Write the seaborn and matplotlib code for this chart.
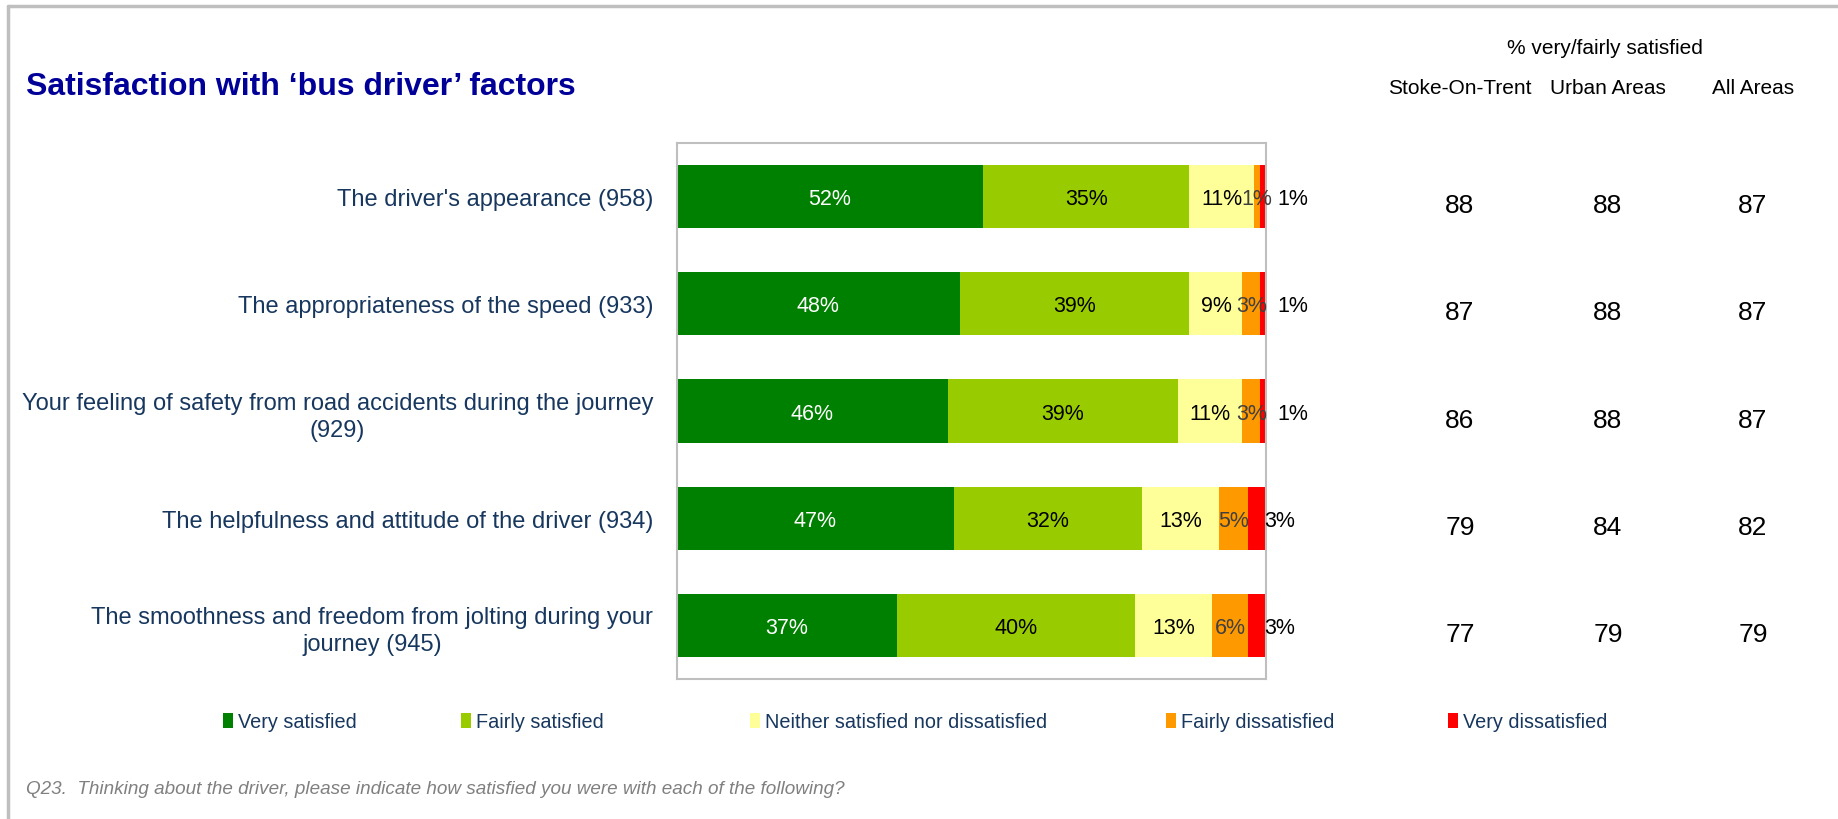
import numpy as np
import pandas as pd
import seaborn as sns
import matplotlib.pyplot as plt
from matplotlib.patches import Patch
from matplotlib.lines import Line2D
from matplotlib.transforms import blended_transform_factory

# chart data
factors = [
    "The driver's appearance (958)",
    "The appropriateness of the speed (933)",
    "Your feeling of safety from road accidents during the journey\n(929)",
    "The helpfulness and attitude of the driver (934)",
    "The smoothness and freedom from jolting during your\njourney (945)",
]
very_satisfied = [52, 48, 46, 47, 37]
fairly_satisfied = [35, 39, 39, 32, 40]
neither = [11, 9, 11, 13, 13]
fairly_dissatisfied = [1, 3, 3, 5, 6]
very_dissatisfied = [1, 1, 1, 3, 3]

stoke = [88, 87, 86, 79, 77]
urban = [88, 88, 88, 84, 79]
all_areas = [87, 87, 87, 82, 79]

levels = ["Very satisfied", "Fairly satisfied", "Neither satisfied nor dissatisfied",
          "Fairly dissatisfied", "Very dissatisfied"]
colors = ["#008000", "#99CC00", "#FFFF99", "#FF9900", "#FF0000"]
label_colors = ["white", "black", "black", "#404040", "black"]

sns.set_theme(style="white")
plt.rcParams['font.family'] = ['Liberation Sans', 'DejaVu Sans']
navy = "#17375E"

df = pd.DataFrame({"factor": factors,
                   levels[0]: very_satisfied, levels[1]: fairly_satisfied,
                   levels[2]: neither, levels[3]: fairly_dissatisfied,
                   levels[4]: very_dissatisfied})
vals = df[levels].to_numpy(dtype=float)
shares = vals / vals.sum(axis=1, keepdims=True) * 100  # 100% stacked
cum = shares.cumsum(axis=1)

fig = plt.figure(figsize=(18.38, 8.2), dpi=100)
ax = fig.add_axes([0.3683, 0.1707, 0.3205, 0.6537])

# stacked bars: draw widest cumulative first, overlay the rest
for i in range(len(levels) - 1, -1, -1):
    sns.barplot(x=cum[:, i], y=df["factor"], color=colors[i], orient="h",
                width=0.59, saturation=1, linewidth=0, ax=ax)

# segment labels
for r in range(len(factors)):
    for i in range(len(levels)):
        center = cum[r, i] - shares[r, i] / 2
        if i == len(levels) - 1:
            # last label is pushed out past the bar end
            center += 5.6 - 0.6 * shares[r, i]
        ax.text(center, r + 0.02, f"{int(vals[r, i])}%", ha="center", va="center",
                fontsize=15.5, color=label_colors[i])

ax.set_xlim(0, 100)
ax.set_xlabel("")
ax.set_ylabel("")
ax.set_xticks([])
ax.tick_params(axis="y", length=0, pad=17, labelsize=17, labelcolor=navy)
for t in ax.get_yticklabels():
    t.set_multialignment("center")
    t.set_linespacing(1.3)
for s in ax.spines.values():
    s.set_color("#BFBFBF")
    s.set_linewidth(1.5)

# right-hand columns
trans = blended_transform_factory(fig.transFigure, ax.transData)
col_x = [1460 / 1838, 1608 / 1838, 1753 / 1838]
for x, col in zip(col_x, [stoke, urban, all_areas]):
    for r, v in enumerate(col):
        ax.text(x, r + 0.08, str(v), transform=trans, ha="center", va="center",
                fontsize=19, color="black", clip_on=False)
for x, name in zip(col_x, ["Stoke-On-Trent", "Urban Areas", "All Areas"]):
    fig.text(x, 1 - 88.5 / 820, name, ha="center", va="center", fontsize=15, color="black")
fig.text(1605 / 1838, 1 - 48.5 / 820, "% very/fairly satisfied", ha="center", va="center",
         fontsize=15, color="black")

fig.text(26 / 1838, 1 - 87 / 820, "Satisfaction with \u2018bus driver\u2019 factors",
         ha="left", va="center", fontsize=23, fontweight="bold", color="#000099")

# legend entries sit at uneven positions, as on the slide
legend_x = [223, 461, 750, 1166, 1448]
for lx, lab, c in zip(legend_x, levels, colors):
    leg = fig.legend([Patch(facecolor=c, edgecolor="none")], [lab], loc="center left",
                     bbox_to_anchor=(lx / 1838, 1 - 723 / 820), frameon=False,
                     fontsize=14.3, handlelength=0.5, handleheight=0.75,
                     handletextpad=0.25, borderpad=0, borderaxespad=0)
    for t in leg.get_texts():
        t.set_color(navy)

fig.text(26 / 1838, 1 - 790 / 820,
         "Q23.  Thinking about the driver, please indicate how satisfied you were with each of the following?",
         ha="left", va="center", fontsize=13.6, style="italic", color="#808080")

# slide frame
fig.add_artist(Line2D([8 / 1838, 8 / 1838], [0, 1 - 7 / 820], transform=fig.transFigure,
                      color="#BFBFBF", lw=2.5))
fig.add_artist(Line2D([8 / 1838, 1], [1 - 7 / 820, 1 - 7 / 820], transform=fig.transFigure,
                      color="#BFBFBF", lw=2.5))

fig.savefig("out.png", dpi=100)
